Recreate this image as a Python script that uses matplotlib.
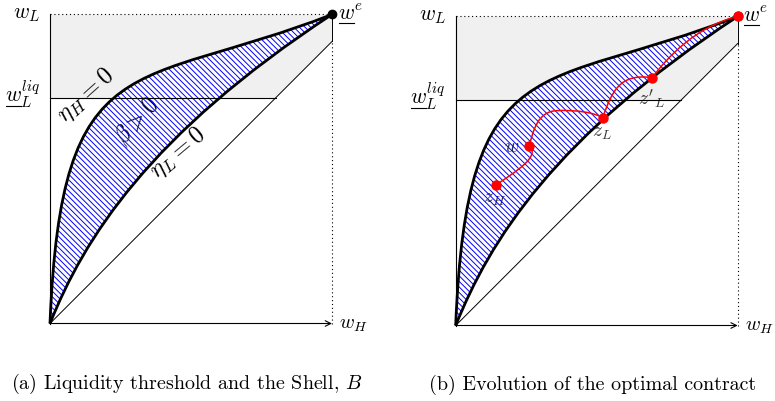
import matplotlib.pyplot as plt
from matplotlib.path import Path
from matplotlib.patches import PathPatch, Polygon

plt.rcParams['font.family'] = 'serif'
plt.rcParams['font.serif'] = ['cmr10']
plt.rcParams['mathtext.fontset'] = 'cm'
plt.rcParams['axes.formatter.use_mathtext'] = True
plt.rcParams['hatch.linewidth'] = 0.7

# normalised units: w_H runs 0..1, the diagonal w_L = w_H ends at (1, 1)
w_top = 1.096      # w_L level of the corner point w^e
w_liq = 0.8        # liquidity threshold

# bezier control points of the two borders of the Shell
eta_H = [(0, 0), (0.04, 1.0), (0.30, 0.823), (1, w_top)]
eta_L = [(0, 0), (0.12, 0.30), (0.35, 0.67), (1, w_top)]

# optimal contract path in panel (b), piecewise cubic (anchor, ctrl, ctrl, anchor, ...)
red_path = [(0.142, 0.498), (0.22, 0.55), (0.30, 0.60), (0.261, 0.638),
            (0.275, 0.69), (0.29, 0.76), (0.36, 0.762),
            (0.43, 0.765), (0.49, 0.755), (0.521, 0.737),
            (0.555, 0.83), (0.58, 0.895), (0.697, 0.879),
            (0.75, 0.95), (0.85, 1.06), (1, w_top)]
red_dots = [(0.142, 0.498), (0.261, 0.638), (0.521, 0.737), (0.697, 0.879), (1, w_top)]
red_labels = ['$z_H$', '$w$', '$z_L$', "$z'_L$"]
red_label_pos = [(0.139, 0.447), (0.200, 0.632), (0.518, 0.684), (0.695, 0.80)]

panel_a_labels = [r'$\eta_H = 0$', r'$\beta > 0$', r'$\eta_L = 0$']
panel_a_pos = [(0.128, 0.81), (0.31, 0.718), (0.452, 0.603)]
panel_a_rot = [42, 47, 40]

captions = [r'(a) Liquidity threshold and the Shell, $B$',
            '(b) Evolution of the optimal contract']

W, H = 775, 401
scale = 282.0
fs = 15.5
fig = plt.figure(figsize=(W / 100, H / 100), dpi=100)
renderer = fig.canvas.get_renderer()


def make_ax(left, right, ox, oy):
    # axes spanning pixels [left, right], origin of the diagram at pixel (ox, oy)
    ax = fig.add_axes([left / W, 0, (right - left) / W, 1])
    ax.set_xlim((left - ox) / scale, (right - ox) / scale)
    ax.set_ylim((oy - H) / scale, oy / scale)
    ax.axis('off')
    return ax


def shell_path():
    verts = eta_H + eta_L[::-1][1:] + [(0, 0)]
    codes = [Path.MOVETO] + [Path.CURVE4] * 3 + [Path.CURVE4] * 3 + [Path.CLOSEPOLY]
    return Path(verts, codes)


def underlined_w(ax, x, y, s, ha):
    # mathtext has no \underline, so draw the bar under the leading w by hand
    t = ax.text(x, y, s, ha=ha, va='baseline', fontsize=fs)
    bb = t.get_window_extent(renderer)
    tmp = ax.text(x, y, '$w$', fontsize=fs)
    ww = tmp.get_window_extent(renderer).width
    tmp.remove()
    _, yb = ax.transData.transform((x, y))
    inv = ax.transData.inverted()
    p0 = inv.transform((bb.x0 + 1, yb - 3))
    p1 = inv.transform((bb.x0 + ww - 1, yb - 3))
    ax.plot([p0[0], p1[0]], [p0[1], p1[1]], color='black', lw=0.8)


def draw_base(ax, dot_color):
    # grey region above the liquidity threshold
    gray = Polygon([(0, w_liq), (0, w_top), (1, w_top), (1, 1), (w_liq, w_liq)],
                   closed=True, facecolor='#f0f0f0', edgecolor='none', zorder=1)
    ax.add_patch(gray)
    ax.plot([1, 1], [1, w_top], color='black', lw=0.7, zorder=2)
    ax.plot([0, 1], [w_top, w_top], color='black', lw=0.8, ls=(0, (1, 2.5)), zorder=2)
    ax.plot([1, 1], [0, 1], color='black', lw=0.8, ls=(0, (1, 2.5)), zorder=2)
    ax.plot([0, 1], [0, 1], color='black', lw=0.7, zorder=2)
    ax.plot([0, 0], [0, w_top], color='black', lw=0.8, zorder=2)
    ax.annotate('', xy=(1, 0), xytext=(0, 0),
                arrowprops=dict(arrowstyle='->', lw=0.8, color='black',
                                shrinkA=0, shrinkB=0), zorder=2)

    ax.add_patch(PathPatch(shell_path(), facecolor='white', edgecolor='none', zorder=2.5))
    ax.add_patch(PathPatch(shell_path(), facecolor='none', edgecolor='blue', lw=0,
                           hatch='\\' * 6, zorder=4))
    ax.plot([0, w_liq], [w_liq, w_liq], color='black', lw=0.8, zorder=4.5)

    for ctrl in (eta_H, eta_L):
        p = Path(ctrl, [Path.MOVETO] + [Path.CURVE4] * 3)
        ax.add_patch(PathPatch(p, facecolor='none', edgecolor='black', lw=2.0, zorder=5))

    ax.plot([1], [w_top], 'o', color=dot_color, ms=6, zorder=7)

    # axis labels
    ax.text(-0.035, w_top, '$w_L$', ha='right', va='center', fontsize=fs)
    underlined_w(ax, -0.035, w_liq - 0.017, r'$w_L^{liq}$', 'right')
    underlined_w(ax, 1.02, w_top - 0.018, '$w^e$', 'left')
    ax.text(1.025, -0.005, '$w_H$', ha='left', va='center', fontsize=14.5)


ax1 = make_ax(0, 400, 50, 323.5)
draw_base(ax1, 'black')
for s, (x, y), r in zip(panel_a_labels, panel_a_pos, panel_a_rot):
    ax1.text(x, y, s, rotation=r, ha='center', va='center', fontsize=17.5,
             rotation_mode='anchor', zorder=3)

ax2 = make_ax(400, 775, 455.7, 325.5)
draw_base(ax2, 'red')
codes = [Path.MOVETO] + [Path.CURVE4] * (len(red_path) - 1)
ax2.add_patch(PathPatch(Path(red_path, codes), facecolor='none', edgecolor='red',
                        lw=1.1, zorder=6))
ax2.plot([p[0] for p in red_dots], [p[1] for p in red_dots], 'o', color='red',
         ms=6.5, ls='none', zorder=7)
for s, (x, y) in zip(red_labels, red_label_pos):
    ax2.text(x, y, s, ha='center', va='center', fontsize=14, color='#333333', zorder=3)

fig.text(187 / W, 1 - 384 / H, captions[0], ha='center', va='center', fontsize=14.4)
fig.text(593 / W, 1 - 385 / H, captions[1], ha='center', va='center', fontsize=14.4)

fig.savefig('out.png', dpi=100)
